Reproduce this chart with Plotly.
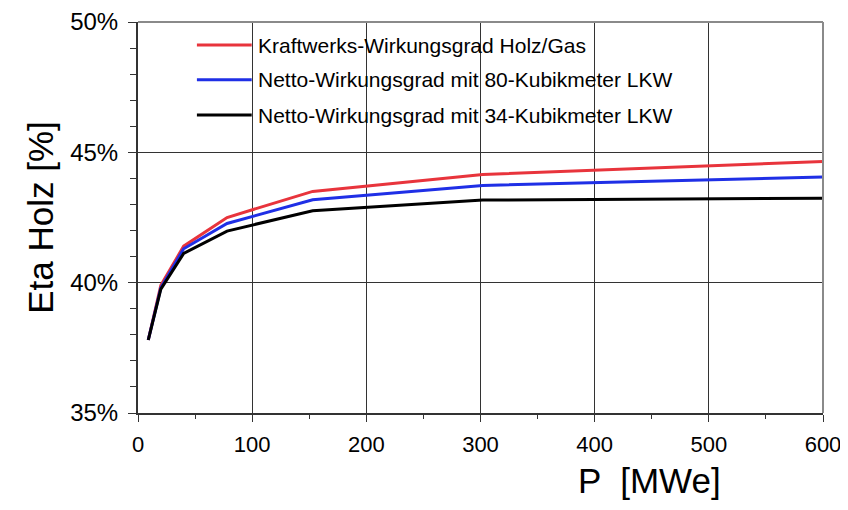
import plotly.graph_objects as go

# Data
p_mwe = [9, 20, 40, 78, 153, 302, 600]
eta_kraftwerk = [37.8, 39.9, 41.4, 42.5, 43.5, 44.15, 44.65]
eta_80 = [37.8, 39.8, 41.3, 42.27, 43.18, 43.73, 44.05]
eta_34 = [37.8, 39.75, 41.12, 41.98, 42.76, 43.17, 43.24]

series_names = [
    "Kraftwerks-Wirkungsgrad Holz/Gas",
    "Netto-Wirkungsgrad mit 80-Kubikmeter LKW",
    "Netto-Wirkungsgrad mit 34-Kubikmeter LKW",
]
series_values = [eta_kraftwerk, eta_80, eta_34]
series_colors = ["#e8343c", "#1f2fe6", "#000000"]

x_ticks = [0, 100, 200, 300, 400, 500, 600]
y_ticks = [35, 40, 45, 50]
y_tick_labels = ["35%", "40%", "45%", "50%"]

FONT = "Liberation Sans, Arial, Helvetica, sans-serif"

fig = go.Figure()
for name, vals, col in zip(series_names, series_values, series_colors):
    fig.add_trace(go.Scatter(x=p_mwe, y=vals, mode="lines", name=name,
                             line=dict(color=col, width=3), showlegend=False))

# manual legend (white box, long line samples)
fig.add_shape(type="rect", xref="paper", yref="paper", x0=0.075, x1=0.93, y0=0.719, y1=1.0,
              fillcolor="white", line=dict(width=0), layer="between")
leg_y = [0.941, 0.852, 0.762]
for name, col, yy in zip(series_names, series_colors, leg_y):
    fig.add_shape(type="line", xref="paper", yref="paper", x0=0.086, x1=0.166, y0=yy, y1=yy,
                  line=dict(color=col, width=3))
    fig.add_annotation(xref="paper", yref="paper", x=0.172, y=yy, text=name, showarrow=False,
                       xanchor="left", yanchor="middle", font=dict(size=21, color="black", family=FONT))

# grey top and right frame
fig.add_shape(type="line", xref="paper", yref="paper", x0=0, x1=1, y0=1, y1=1,
              line=dict(color="#8a8a8a", width=2))
fig.add_shape(type="line", xref="paper", yref="paper", x0=1, x1=1, y0=0, y1=1,
              line=dict(color="#8a8a8a", width=2))

# x axis title
fig.add_annotation(xref="paper", yref="paper", x=0.746, y=-0.118, text="P  [MWe]", showarrow=False,
                   xanchor="center", yanchor="top", font=dict(size=35, color="black", family=FONT))

# page has an 8px body margin, so the figure is 8px smaller to fit the 848x510 window
fig.update_layout(
    width=840, height=502,
    margin=dict(l=130, r=25, t=14, b=97),
    paper_bgcolor="white", plot_bgcolor="white",
    font=dict(family=FONT, color="black"),
    xaxis=dict(range=[0, 600], tickvals=x_ticks, ticks="outside", ticklen=7, tickwidth=1,
               tickcolor="#333", showline=True, linecolor="#333", linewidth=2,
               showgrid=True, gridcolor="#333", gridwidth=1, zeroline=False, automargin=False,
               tickfont=dict(size=22, family=FONT), ticklabelstandoff=4,
               minor=dict(dtick=50, ticks="outside", ticklen=4, tickcolor="#333", showgrid=False)),
    yaxis=dict(range=[35, 50], tickvals=y_ticks, ticktext=y_tick_labels, ticks="outside", ticklen=8,
               tickwidth=1, tickcolor="#333", showline=True, linecolor="#333", linewidth=2,
               showgrid=True, gridcolor="#333", gridwidth=1, zeroline=False, automargin=False,
               tickfont=dict(size=24, family=FONT), ticklabelstandoff=5,
               title=dict(text="Eta Holz [%]", font=dict(size=35, family=FONT), standoff=6),
               minor=dict(dtick=1, ticks="outside", ticklen=6, tickcolor="#333", showgrid=False)),
)

fig.write_html("out.html")
